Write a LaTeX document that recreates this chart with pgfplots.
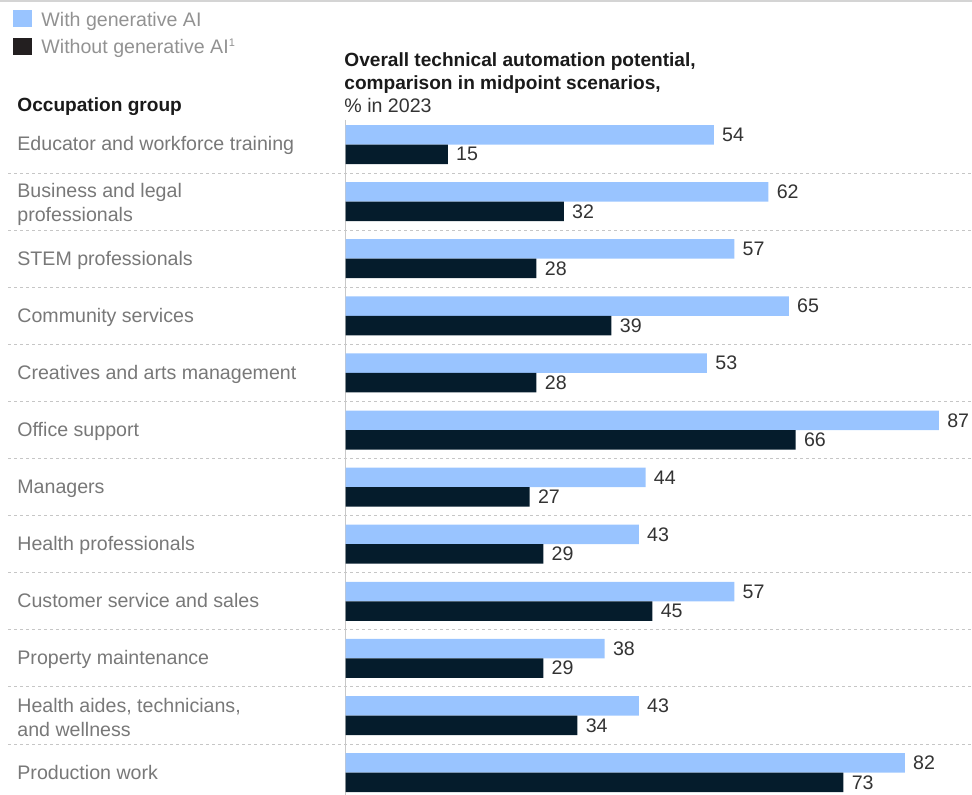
\documentclass[border=0pt]{standalone}
\usepackage{pgfplots}
\pgfplotsset{compat=1.18}
\usepackage{fontspec}
\setmainfont{Liberation Sans}
\definecolor{lightb}{HTML}{99C4FF}
\definecolor{darkb}{HTML}{051C2C}
\definecolor{legdark}{HTML}{231F20}
\definecolor{labgray}{HTML}{787878}
\definecolor{leggray}{HTML}{929292}
\definecolor{valc}{HTML}{333333}
\definecolor{titc}{HTML}{1A1A1A}
\definecolor{sepc}{HTML}{C6C6C6}
\definecolor{topc}{HTML}{D4D4D4}
\definecolor{axc}{HTML}{C8C8C8}
\newcommand\fs{\fontsize{9.8}{11.5}\selectfont}
\newcommand\fb{\fontsize{9.55}{11.5}\selectfont\bfseries}
\begin{document}
\begin{tikzpicture}
\begin{scope}[x=0.5pt,y=-0.5pt,shift={(0pt,397.5pt)}]
\path[use as bounding box] (0,0) rectangle (972,795);
\fill[topc] (0,0) rectangle (972,2.5);
\foreach \k in {1,...,11}{\draw[sepc, line width=0.5pt, dash pattern=on 1.5pt off 1.5pt] (8,{116+57.1*\k}) -- (972,{116+57.1*\k});}
\draw[axc, line width=0.5pt] (345.5,120) -- (345.5,795);
% legend
\fill[lightb] (13,10) rectangle (32,27);
\fill[legdark] (13,38) rectangle (32,55);
\node[anchor=base west, inner sep=0pt, font=\fs, text=leggray] at (41,26.5) {With generative AI};
\node[anchor=base west, inner sep=0pt, font=\fs, text=leggray] at (41,54) {Without generative AI\raisebox{0.75ex}{\fontsize{5.5}{6}\selectfont 1}};
% headers
\node[anchor=base west, inner sep=0pt, font=\fb, text=titc] at (17,112) {Occupation group};
\node[anchor=base west, inner sep=0pt, font=\fb, text=titc] at (344,67) {Overall technical automation potential,};
\node[anchor=base west, inner sep=0pt, font=\fb, text=titc] at (344,89.5) {comparison in midpoint scenarios,};
\node[anchor=base west, inner sep=0pt, font=\fs, text=valc] at (344,112.5) {\% in 2023};
% category labels
\begin{scope}[every node/.style={anchor=base west, inner sep=0pt, font=\fs, text=labgray}]
\node at (17,151) {Educator and workforce training};
\node at (17,198) {Business and legal};
\node at (17,222) {professionals};
\node at (17,265.2) {STEM professionals};
\node at (17,322.3) {Community services};
\node at (17,379.4) {Creatives and arts management};
\node at (17,436.5) {Office support};
\node at (17,493.6) {Managers};
\node at (17,550.7) {Health professionals};
\node at (17,607.8) {Customer service and sales};
\node at (17,664.9) {Property maintenance};
\node at (17,712.5) {Health aides, technicians,};
\node at (17,736.5) {and wellness};
\node at (17,779.1) {Production work};
\end{scope}
\end{scope}
\begin{axis}[at={(172.75pt,0pt)}, anchor=south west,
  x=3.41pt, y=28.55pt, xmin=0, xmax=91.86, ymin=-11.392, ymax=0.429,
  hide axis, clip=false, xbar, bar width=9.75pt, point meta=x,
  nodes near coords, /pgf/number format/assume math mode=true,
  every node near coord/.append style={anchor=west, inner sep=0pt, xshift=4pt, font=\fs, text=valc}]
\addplot[fill=lightb, draw=none, bar shift=4.875pt] coordinates {(54,0) (62,-1) (57,-2) (65,-3) (53,-4) (87,-5) (44,-6) (43,-7) (57,-8) (38,-9) (43,-10) (82,-11)};
\addplot[fill=darkb, draw=none, bar shift=-4.875pt] coordinates {(15,0) (32,-1) (28,-2) (39,-3) (28,-4) (66,-5) (27,-6) (29,-7) (45,-8) (29,-9) (34,-10) (73,-11)};
\end{axis}
\end{tikzpicture}
\end{document}
